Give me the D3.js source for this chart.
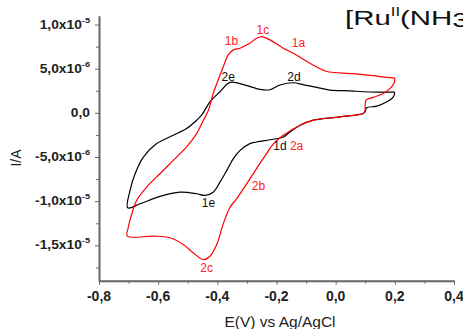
<!DOCTYPE html>
<html>
<head>
<meta charset="utf-8">
<script src="https://cdn.jsdelivr.net/npm/d3@7"></script>
<style>
  body { margin: 0; background: #fff; }
  svg { display: block; font-family: 'Liberation Sans', Arial, sans-serif; }
  .axis path, .axis line { stroke: #666; }
  .tick-label { font-weight: bold; font-size: 12px; fill: #222; }
  .peak { font-size: 12px; }
</style>
</head>
<body>
<svg id="chart"></svg>
<script>
// potentials in V, currents in 1e-6 A
const blackCurve = [
  [0.20, 2.35], [0.150, 2.35], [0.093, 2.39], [0.049, 2.50], [-0.019, 2.58], [-0.053, 2.81],
  [-0.104, 3.15], [-0.144, 3.41], [-0.188, 3.15], [-0.222, 2.62], [-0.256, 2.66], [-0.306, 3.15],
  [-0.357, 3.45], [-0.391, 2.39], [-0.425, 1.25], [-0.452, -0.20], [-0.470, -0.83], [-0.504, -1.77],
  [-0.549, -2.53], [-0.605, -3.48], [-0.650, -5.00], [-0.678, -6.89], [-0.695, -8.78], [-0.703, -10.75],
  [-0.661, -10.29], [-0.594, -9.46], [-0.526, -8.98], [-0.470, -9.16], [-0.442, -9.35], [-0.414, -8.98],
  [-0.391, -7.84], [-0.368, -6.51], [-0.346, -5.18], [-0.323, -4.24], [-0.290, -3.48], [-0.267, -3.30],
  [-0.211, -2.99], [-0.177, -2.73], [-0.154, -2.16], [-0.120, -1.40], [-0.075, -0.83], [0.015, -0.45],
  [0.094, -0.07], [0.099, 0.11], [0.105, 0.57], [0.139, 0.76], [0.173, 1.25], [0.195, 1.82], [0.20, 2.30]
];

const redCurve = [
  [0.20, 3.94], [0.150, 4.11], [0.093, 4.34], [0.025, 4.51], [-0.029, 4.68], [-0.087, 5.61],
  [-0.143, 6.75], [-0.177, 7.32], [-0.222, 8.26], [-0.250, 8.64], [-0.267, 8.45], [-0.290, 7.89],
  [-0.301, 7.69], [-0.323, 7.32], [-0.346, 7.13], [-0.363, 6.56], [-0.380, 5.23], [-0.397, 3.72],
  [-0.414, 2.20], [-0.430, 0.31], [-0.447, -0.83], [-0.470, -2.35], [-0.504, -3.86], [-0.549, -5.38],
  [-0.594, -6.89], [-0.639, -8.40], [-0.673, -9.92], [-0.689, -11.43], [-0.701, -12.95], [-0.704, -13.95],
  [-0.616, -13.95], [-0.560, -14.14], [-0.515, -14.90], [-0.481, -15.86], [-0.447, -16.61],
  [-0.425, -16.23], [-0.402, -14.90], [-0.380, -12.57], [-0.357, -10.68], [-0.335, -9.73],
  [-0.301, -8.03], [-0.267, -6.28], [-0.233, -4.58], [-0.210, -3.48], [-0.177, -2.53], [-0.120, -1.40],
  [-0.075, -0.83], [0.015, -0.45], [0.094, -0.03], [0.099, 0.23], [0.103, 1.44], [0.127, 1.75],
  [0.161, 2.20], [0.184, 2.77], [0.198, 3.41], [0.20, 3.94]
];

const blackLabels = [
  { text: '2e', E: -0.363, I: 3.66 }, { text: '2d', E: -0.141, I: 3.66 },
  { text: '1d', E: -0.188, I: -4.18 }, { text: '1e', E: -0.430, I: -10.63 }
];
const redLabels = [
  { text: '1b', E: -0.352, I: 7.67 }, { text: '1c', E: -0.246, I: 8.97 }, { text: '1a', E: -0.126, I: 7.44 },
  { text: '2a', E: -0.132, I: -4.18 }, { text: '2b', E: -0.261, I: -8.73 }, { text: '2c', E: -0.436, I: -18.01 }
];

const xTicks = [-0.8, -0.6, -0.4, -0.2, 0.0, 0.2, 0.4];
const yTicks = [
  { v: 10, mant: '1,0x10', exp: '-5' }, { v: 5, mant: '5,0x10', exp: '-6' }, { v: 0, mant: '0,0', exp: '' },
  { v: -5, mant: '-5,0x10', exp: '-6' }, { v: -10, mant: '-1,0x10', exp: '-5' }, { v: -15, mant: '-1,5x10', exp: '-5' }
];

const width = 463, height = 329;
const svg = d3.select('#chart').attr('width', width).attr('height', height);

const x = d3.scaleLinear().domain([-0.8, 0.4]).range([99, 454]);
const y = d3.scaleLinear().domain([-19, 11]).range([280.7, 15.7]);

// minor ticks first, then major axes on top
svg.append('g').attr('class', 'axis')
  .attr('transform', 'translate(0,280.7)')
  .call(d3.axisBottom(x).tickValues(d3.range(-0.7, 0.4, 0.2)).tickSize(3).tickFormat(''))
  .call(g => g.select('.domain').remove());
svg.append('g').attr('class', 'axis')
  .attr('transform', 'translate(99,0)')
  .call(d3.axisLeft(y).tickValues([-17.5, -12.5, -7.5, -2.5, 2.5, 7.5]).tickSize(3).tickFormat(''))
  .call(g => g.select('.domain').remove());

const xAxisG = svg.append('g').attr('class', 'axis')
  .attr('transform', 'translate(0,280.7)')
  .call(d3.axisBottom(x).tickValues(xTicks).tickSize(4).tickSizeOuter(0).tickFormat(''));
xAxisG.select('.domain').attr('stroke-width', 2);

const yAxisG = svg.append('g').attr('class', 'axis')
  .attr('transform', 'translate(99,0)')
  .call(d3.axisLeft(y).tickValues(yTicks.map(d => d.v)).tickSize(4).tickSizeOuter(0).tickFormat(''));
yAxisG.select('.domain').attr('stroke-width', 2);

// x tick labels
svg.append('g').selectAll('text')
  .data(xTicks)
  .join('text')
  .attr('class', 'tick-label')
  .attr('x', d => x(d))
  .attr('y', 301)
  .attr('text-anchor', 'middle')
  .style('font-size', '14px')
  .text(d => d3.format('.1f')(d).replace('.', ',').replace('−', '-'));

// y tick labels with superscript exponent (slightly stretched like the original)
const yl = svg.append('g').selectAll('text')
  .data(yTicks)
  .join('text')
  .attr('class', 'tick-label')
  .attr('transform', d => `translate(90,${y(d.v) + 4}) scale(1.15,1)`)
  .attr('text-anchor', 'end');
yl.append('tspan').text(d => d.mant);
yl.filter(d => d.exp).append('tspan')
  .attr('dy', -6)
  .style('font-size', '8px')
  .text(d => d.exp);

// axis titles
svg.append('text')
  .attr('x', 280).attr('y', 327)
  .attr('text-anchor', 'middle')
  .style('font-size', '15.5px').attr('fill', '#222')
  .text('E(V) vs Ag/AgCl');

svg.append('text')
  .attr('transform', 'translate(21,158) rotate(-90)')
  .attr('text-anchor', 'middle')
  .style('font-size', '14px').attr('fill', '#222')
  .text('I/A');

// title (cut off at the right edge)
const title = svg.append('text')
  .attr('transform', 'translate(345,25) scale(1.4,1)')
  .style('font-size', '21px').attr('fill', '#111');
title.append('tspan').text('[Ru');
title.append('tspan').attr('dy', -9).style('font-size', '12px').text('II');
title.append('tspan').attr('dy', 9).text('(NH');
title.append('tspan').attr('dy', 2).text('3');

// curves
const line = d3.line()
  .x(d => x(d[0]))
  .y(d => y(d[1]))
  .curve(d3.curveCatmullRom.alpha(0.5));

svg.append('path')
  .datum(blackCurve)
  .attr('d', line)
  .attr('fill', 'none')
  .attr('stroke', '#000')
  .attr('stroke-width', 1.2);

svg.append('path')
  .datum(redCurve)
  .attr('d', line)
  .attr('fill', 'none')
  .attr('stroke', '#ff0000')
  .attr('stroke-width', 1.2);

// peak labels
svg.append('g').selectAll('text')
  .data(blackLabels)
  .join('text')
  .attr('class', 'peak')
  .attr('x', d => x(d.E))
  .attr('y', d => y(d.I))
  .attr('text-anchor', 'middle')
  .attr('fill', '#111')
  .text(d => d.text);

svg.append('g').selectAll('text')
  .data(redLabels)
  .join('text')
  .attr('class', 'peak')
  .attr('x', d => x(d.E))
  .attr('y', d => y(d.I))
  .attr('text-anchor', 'middle')
  .attr('fill', '#ff2020')
  .text(d => d.text);
</script>
</body>
</html>
